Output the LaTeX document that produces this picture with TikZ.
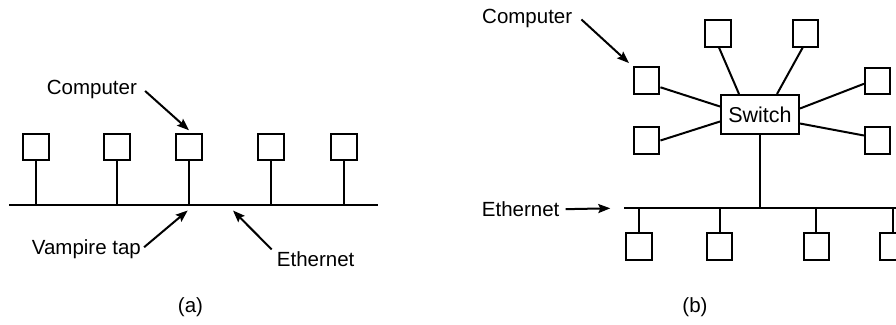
\documentclass[tikz,border=0pt]{standalone}
\usepackage{fontspec}
\setmainfont{Liberation Sans}
\usetikzlibrary{arrows.meta,calc}
\begin{document}
\begin{tikzpicture}[x=1pt,y=-1pt,
  comp/.style={draw,line width=2pt,minimum width=25.5pt,minimum height=26.5pt,inner sep=0pt},
  wire/.style={line width=2pt},
  ptr/.style={line width=2pt,-{Stealth[length=12pt,width=9pt,inset=2pt]}},
  lbl/.style={inner sep=0pt,font=\fontsize{20.5}{24}\selectfont},
  ]
\useasboundingbox (0,0) rectangle (896,324);
\clip (0,0) rectangle (896,324);

% ---------- (a) ----------
\foreach \n/\x in {1/36,2/117,3/189,4/271,5/344}
  \node[comp] (a\n) at (\x,147) {};
\coordinate (busL) at (9.3,205.3);
\coordinate (busR) at (378,205.3);
\draw[wire] (busL) -- (busR);
\foreach \n in {1,...,5}
  \draw[wire] (a\n.south) -- (a\n.south |- busL);
\coordinate (tapTip) at (187.7,210.5);
\coordinate (ethTip) at (233,210.5);

\node[lbl,anchor=base west] (ca) at (46.7,94) {Computer};
\node[lbl,anchor=base west] (vt) at (31.7,254.5) {Vampire tap};
\node[lbl,anchor=base west] (ea) at (276.7,266.5) {Ethernet};
\node[lbl] (la) at (190.5,307) {(a)};

\draw[ptr] ($(ca.east)+(8,2)$) -- ([yshift=2.5pt]a3.north);
\draw[ptr] ($(vt.east)+(3,-2)$) -- (tapTip);
\draw[ptr] ($(ea.north west)+(-5,-2)$) -- (ethTip);

% ---------- (b) ----------
\node[comp,minimum width=78pt,minimum height=39pt,inner sep=0pt,font=\fontsize{21.5}{24}\selectfont] (sw) at (760,114.5) {Switch};
\node[comp] (ul) at (646.7,80.3) {};
\node[comp] (ll) at (646.7,140.5) {};
\node[comp] (t1) at (718,33.3) {};
\node[comp] (t2) at (805.7,33.3) {};
\node[comp] (rt) at (877.7,80.8) {};
\node[comp] (rb) at (877.7,140.5) {};

\draw[wire] ([yshift=-7pt]ul.east) -- ([yshift=8pt]sw.west);
\draw[wire] (ll.east) -- ([yshift=-7pt]sw.west);
\draw[wire] ([xshift=1pt]t1.south) -- ([xshift=-21pt]sw.north);
\draw[wire] ([xshift=-3pt]t2.south) -- ([xshift=17pt]sw.north);
\draw[wire] ([yshift=-3pt]rt.west) -- ([yshift=6pt]sw.east);
\draw[wire] ([yshift=5pt]rb.west) -- ([yshift=-9pt]sw.east);

\coordinate (bbL) at (624.3,208.3);
\coordinate (bbR) at (905,208.3);
\draw[wire] (bbL) -- (bbR);
\draw[wire] (sw.south) -- (sw.south |- bbL);
\foreach \n/\x in {1/639,2/719.5,3/816.3,4/892.5}{
  \node[comp] (b\n) at (\x,246.7) {};
  \draw[wire] (b\n.north) -- (b\n.north |- bbL);
}

\node[lbl,anchor=base west] (cb) at (482,23.5) {Computer};
\node[lbl,anchor=base west] (eb) at (481.7,216.5) {Ethernet};
\node[lbl] (lb) at (695,307) {(b)};

\draw[ptr] ($(cb.east)+(9,1)$) -- ([shift={(-4pt,3pt)}]ul.north west);
\draw[ptr] ($(eb.east)+(6,0)$) -- ($(bbL)+(-14,0)$);
\end{tikzpicture}
\end{document}
